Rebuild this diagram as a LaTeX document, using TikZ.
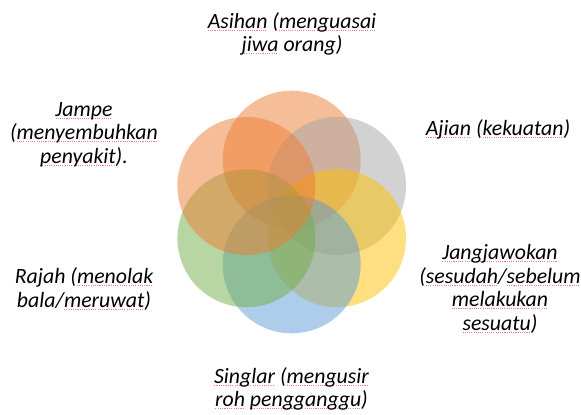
\documentclass[tikz,border=0pt]{standalone}
\usepackage{fontspec}
\setmainfont{Carlito}
\definecolor{cOrange}{HTML}{ED7D31}
\definecolor{cGray}{HTML}{A5A5A5}
\definecolor{cYellow}{HTML}{FFC000}
\definecolor{cBlue}{HTML}{5B9BD5}
\definecolor{cGreen}{HTML}{70AD47}
\definecolor{sqred}{HTML}{F08080}
\newsavebox\sqbox
\newcommand\sqz[1]{\sbox\sqbox{#1}\rlap{\textcolor{sqred}{\hbox to\wd\sqbox{\xleaders\hbox{\rule[-0.12em]{0.05em}{0.05em}\hspace{0.05em}}\hfill}}}\usebox\sqbox}
\tikzset{
  petal/.style={circle, minimum size=138pt, inner sep=0pt, draw=none, fill opacity=0.5},
  lbl/.style={align=center, inner sep=0pt, anchor=base, font=\itshape\fontsize{21.8}{23.5}\selectfont}
}
\begin{document}
\begin{tikzpicture}[x=1pt,y=-1pt]
\useasboundingbox (0,0) rectangle (581,415);
\node[petal, fill=cOrange] (cA) at (291.7,159.7) {};
\node[petal, fill=cGray]   (cB) at (337,185.9) {};
\node[petal, fill=cYellow] (cC) at (337,238.2) {};
\node[petal, fill=cBlue]   (cD) at (291.7,264.3) {};
\node[petal, fill=cGreen]  (cE) at (246.4,238.2) {};
\node[petal, fill=cOrange] (cF) at (246.4,185.9) {};
\node[lbl] (tA) at (292,51.5) {\sqz{Asihan} (\sqz{menguasai}\\ \sqz{jiwa} orang)};
\node[lbl] (tB) at (498,135) {\sqz{Ajian} (\sqz{kekuatan})};
\node[lbl] (tC) at (500,330) {\sqz{Jangjawokan}\\ (\sqz{sesudah}/\sqz{sebelum}\\ \sqz{melakukan}\\ \sqz{sesuatu})};
\node[lbl] (tD) at (291.5,406.5) {\sqz{Singlar} (\sqz{mengusir}\\ \sqz{roh} \sqz{pengganggu})};
\node[lbl] (tE) at (84,307) {Rajah (\sqz{menolak}\\ bala/\sqz{meruwat})};
\node[lbl] (tF) at (84,163) {\sqz{Jampe}\\ (\sqz{menyembuhkan}\\ \sqz{penyakit}).};
\end{tikzpicture}
\end{document}
